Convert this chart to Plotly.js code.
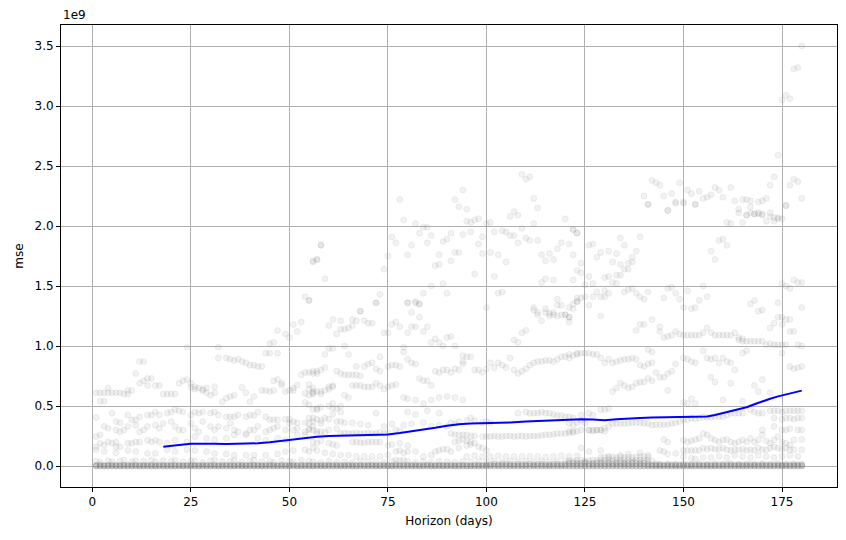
<!DOCTYPE html>
<html><head><meta charset="utf-8">
<script src="https://cdn.plot.ly/plotly-3.0.1.min.js"></script>
<style>html,body{margin:0;padding:0;background:#fff}#chart{width:846px;height:540px}</style>
</head><body><div id="chart"></div>
<script>
// Horizon (days) for the dense near-zero rows
const horizonDays = [1,2,3,4,5,6,7,8,9,10,11,12,13,14,15,16,17,18,19,20,
21,22,23,24,25,26,27,28,29,30,31,32,33,34,35,36,37,38,39,40,
41,42,43,44,45,46,47,48,49,50,51,52,53,54,55,56,57,58,59,60,
61,62,63,64,65,66,67,68,69,70,71,72,73,74,75,76,77,78,79,80,
81,82,83,84,85,86,87,88,89,90,91,92,93,94,95,96,97,98,99,100,
101,102,103,104,105,106,107,108,109,110,111,112,113,114,115,116,117,118,119,120,
121,122,123,124,125,126,127,128,129,130,131,132,133,134,135,136,137,138,139,140,
141,142,143,144,145,146,147,148,149,150,151,152,153,154,155,156,157,158,159,160,
161,162,163,164,165,166,167,168,169,170,171,172,173,174,175,176,177,178,179,180];

// mse values in units of 1e9
const baseRowA = [0,0,0,0,0,0,0,0,0,0,0,0,0,0,0,0,0,0,0,0,
0,0,0,0,0,0,0,0,0,0,0,0,0,0,0,0,0,0,0,0,
0,0,0,0,0,0,0,0,0,0,0,0,0,0,0,0,0,0,0,0,
0,0,0,0,0,0,0,0,0,0,0,0,0,0,0,0,0,0,0,0,
0,0,0,0,0,0,0,0,0,0,0,0,0,0,0,0,0,0,0,0,
0,0,0,0,0,0,0,0,0,0,0,0,0,0,0,0,0,0,0,0,
0,0,0,0,0,0,0,0,0,0,0,0,0,0,0,0,0,0,0,0,
0,0,0,0,0,0,0,0,0,0,0,0,0,0,0,0,0,0,0,0,
0,0,0,0,0,0,0,0,0,0,0,0,0,0,0,0,0,0,0,0];

const baseRowB = [0.006,0.008,0.005,0.007,0.009,0.006,0.005,0.008,0.007,0.006,0.009,0.005,0.007,0.008,0.006,0.005,0.009,0.007,0.006,0.008,
0.006,0.008,0.005,0.007,0.009,0.006,0.005,0.008,0.007,0.006,0.009,0.005,0.007,0.008,0.006,0.005,0.009,0.007,0.006,0.008,
0.006,0.008,0.005,0.007,0.009,0.006,0.005,0.008,0.007,0.006,0.009,0.005,0.007,0.008,0.006,0.005,0.009,0.007,0.006,0.008,
0.006,0.008,0.005,0.007,0.009,0.006,0.005,0.008,0.007,0.006,0.009,0.005,0.007,0.008,0.006,0.005,0.009,0.007,0.006,0.008,
0.006,0.008,0.005,0.007,0.009,0.006,0.005,0.008,0.007,0.006,0.009,0.005,0.007,0.008,0.006,0.005,0.009,0.007,0.006,0.008,
0.012,0.015,0.010,0.014,0.016,0.012,0.011,0.015,0.013,0.012,0.016,0.010,0.014,0.015,0.012,0.011,0.016,0.014,0.012,0.015,
0.020,0.025,0.018,0.022,0.026,0.020,0.019,0.024,0.022,0.020,0.026,0.018,0.023,0.025,0.021,0.020,0.026,0.022,0.020,0.024,
0.012,0.010,0.008,0.010,0.009,0.008,0.010,0.009,0.008,0.010,0.009,0.008,0.010,0.009,0.008,0.010,0.009,0.008,0.010,0.009,
0.012,0.010,0.008,0.010,0.009,0.008,0.010,0.009,0.008,0.010,0.009,0.008,0.010,0.009,0.008,0.010,0.009,0.008,0.010,0.009];

const lowBand = [[1,0.04],[2,0.03],[4,0.045],[5,0.035],[7,0.04],[8,0.05],[10,0.035],[11,0.045],[13,0.04],[15,0.05],[16,0.035],[18,0.045],[20,0.04],[21,0.05],[23,0.035],[25,0.045],[26,0.04],[28,0.03],[30,0.045],[31,0.05],[33,0.035],[35,0.04],[36,0.045],[38,0.03],[40,0.04],[41,0.05],[43,0.035],[45,0.04],[46,0.03],[48,0.045],[50,0.04],[51,0.035],[53,0.05],[55,0.04],[56,0.035],[58,0.03],[60,0.04],[62,0.03],[64,0.035],[66,0.03],[68,0.04],[70,0.035],[72,0.03],[74,0.03],[76,0.04],[77,0.05],[78,0.045],[79,0.05],[80,0.04],[82,0.03],[84,0.035],[86,0.03],[88,0.04],[90,0.035],[92,0.03],[94,0.04],[96,0.035],[98,0.04],[100,0.035],[102,0.04],[104,0.035],[106,0.04],[108,0.035],[110,0.04],[112,0.035],[114,0.04],[116,0.035],[118,0.04],[120,0.04],[121,0.045],[122,0.04],[123,0.045],[124,0.05],[125,0.04],[126,0.045],[127,0.05],[128,0.045],[129,0.05],[130,0.045],[131,0.05],[132,0.045],[133,0.05],[134,0.045],[135,0.05],[136,0.045],[137,0.05],[138,0.045],[139,0.05],[140,0.045],[141,0.05],[142,0.04],
[129,0.07],[130,0.075],[131,0.07],[132,0.075],[133,0.07],[134,0.075],[135,0.07],[136,0.075],[137,0.07],[138,0.075],[139,0.08],[140,0.08],[141,0.075],
[121,0.03],[123,0.025],[125,0.03],[127,0.025],[129,0.03],[131,0.025],[133,0.03],[135,0.025],[137,0.03],[139,0.03],[141,0.03],[143,0.02],[144,0.015],[146,0.02],[148,0.015],[150,0.02],[152,0.015],[154,0.02],[156,0.015],[158,0.02],[160,0.015],[162,0.02],[164,0.015],[166,0.02],[168,0.015],[170,0.02],[172,0.015],[174,0.02],[176,0.015],[178,0.02],[180,0.015]];

// Early horizons (days 1-58): [day, mse]
const earlyPts = [[1,0.61],[2,0.61],[3,0.61],[4,0.61],[5,0.61],[6,0.61],[7,0.61],[8,0.60],[9,0.60],
[2,0.54],[3,0.54],[4,0.65],[9,0.63],[10,0.63],[11,0.77],[12,0.87],[13,0.87],[12,0.69],[13,0.71],[14,0.73],[15,0.73],[14,0.67],[16,0.67],[17,0.67],[18,0.60],[19,0.60],[20,0.60],[21,0.60],[22,0.69],[23,0.71],[24,0.72],[24,0.99],[25,0.69],[26,0.66],[27,0.65],[28,0.64],[29,0.65],[31,0.66],
[25,0.655],[26,0.64],[28,0.63],[29,0.61],[30,0.59],[31,0.61],[33,0.535],[34,0.565],[35,0.58],[36,0.59],[38,0.655],[39,0.61],[40,0.535],[41,0.58],[43,0.63],[44,0.63],[45,0.62],[46,0.63],[48,0.675],[49,0.62],[51,0.63],[52,0.675],[54,0.605],[55,0.59],[56,0.62],
[32,0.99],[32,0.90],[34,0.90],[35,0.89],[36,0.88],[37,0.89],[38,0.87],[39,0.86],[40,0.84],[41,0.84],[42,0.83],[43,0.83],[44,0.94],[45,0.94],[45,1.02],[46,1.03],[47,0.94],[47,1.13],[49,1.10],[50,1.07],[51,1.18],[52,1.12],[53,1.20],[54,1.41],[55,1.38],[56,1.70],[57,1.72],[58,1.84],
[46,0.71],[47,0.72],[48,0.69],[50,0.63],[51,0.65],[53,0.76],[54,0.78],[55,0.78],[56,0.79],[57,0.77],[55,0.68],[56,0.61],[57,0.47],[54,0.53],[55,0.51],[58,0.60],
[1,0.405],[5,0.44],[6,0.37],[7,0.36],[9,0.425],[10,0.385],[11,0.385],[12,0.41],[14,0.425],[15,0.425],[16,0.45],[17,0.425],[19,0.44],[20,0.45],[21,0.47],[22,0.46],[23,0.45],[25,0.425],[26,0.45],[27,0.44],[28,0.45],[30,0.44],[31,0.45],[32,0.425],[34,0.41],[35,0.41],[36,0.41],[37,0.425],[39,0.41],[40,0.425],[41,0.42],[42,0.45],[44,0.41],[45,0.385],[46,0.385],[47,0.385],[49,0.39],[50,0.39],[51,0.37],[52,0.36],[54,0.36],[55,0.355],[56,0.37],[58,0.355],
[2,0.26],[3,0.33],[4,0.315],[6,0.30],[7,0.285],[8,0.30],[9,0.33],[11,0.34],[12,0.285],[13,0.30],[14,0.33],[16,0.34],[17,0.315],[18,0.355],[20,0.37],[21,0.33],[22,0.30],[23,0.30],[25,0.355],[26,0.315],[27,0.285],[28,0.37],[30,0.33],[31,0.30],[32,0.33],[34,0.315],[35,0.355],[36,0.30],[37,0.285],[39,0.27],[40,0.30],[41,0.30],[42,0.33],[44,0.285],[45,0.30],[46,0.315],[47,0.33],[49,0.30],[50,0.355],[51,0.30],[52,0.315],[54,0.285],[55,0.30],[56,0.33],[58,0.285],
[1,0.245],[1,0.16],[2,0.19],[3,0.175],[4,0.20],[5,0.19],[6,0.20],[6,0.16],[7,0.16],[9,0.19],[10,0.19],[11,0.20],[12,0.20],[14,0.215],[15,0.20],[16,0.215],[17,0.20],[19,0.19],[21,0.215],[24,0.20],[26,0.245],[29,0.23],[31,0.22],[34,0.23],[36,0.26],[39,0.26],[42,0.23],[44,0.215],[47,0.23],[49,0.215],[52,0.26],[54,0.26],[57,0.27],
[1,0.135],[3,0.12],[6,0.11],[9,0.13],[11,0.12],[14,0.105],[16,0.105],[19,0.135],[21,0.12],[24,0.135],[26,0.13],[29,0.12],[31,0.105],[34,0.10],[36,0.09],[39,0.09],[41,0.09],[44,0.09],[47,0.10],[49,0.12],[51,0.13],[54,0.135],[56,0.15]];

// Middle horizons (days 55-123): [day, mse]
const middlePts = [[58,1.84],[56,1.71],[57,1.72],[59,1.56],[55,1.38],[73,1.43],[72,1.36],[68,1.29],[74,1.64],[75,1.75],[78,2.22],[79,2.05],[82,2.02],[83,1.94],[84,1.99],[85,1.99],[86,1.92],[85,1.86],[76,1.91],[77,1.86],[81,1.84],[80,1.76],[87,1.67],[88,1.68],[88,1.76],[89,1.87],[90,1.89],[91,1.94],[92,1.78],[93,1.78],[92,2.22],[93,2.16],[94,2.30],[95,2.14],[95,2.04],[96,2.03],[97,2.05],[98,2.06],[94,1.93],[96,1.95],[98,1.85],[99,1.91],[99,1.77],[91,1.71],[89,1.52],[90,1.44],[86,1.50],[84,1.44],[83,1.35],[82,1.37],[80,1.36],[81,1.28],[83,1.24],[97,1.60],
[100,2.02],[101,2.03],[102,1.95],[104,1.96],[105,1.95],[106,1.92],[107,1.92],[108,1.86],[109,1.98],[110,1.90],[111,1.88],[113,1.88],[112,2.02],[106,2.08],[107,2.12],[108,2.09],[112,2.23],[113,2.15],[109,2.43],[110,2.39],[111,2.41],[120,2.06],[122,1.97],[123,1.94],[101,1.78],[103,1.76],[105,1.70],[102,1.58],[103,1.44],[104,1.45],[100,1.32],[114,1.76],[115,1.71],[116,1.77],[117,1.72],[118,1.81],[119,1.86],[121,1.85],[122,1.76],[114,1.53],[115,1.56],[117,1.55],[118,1.39],[119,1.34],[120,1.26],[121,1.24],[122,1.31],[123,1.37],[112,1.30],[113,1.26],[115,1.28],[116,1.25],[117,1.26],[118,1.25],
[72,1.36],[80,1.36],[82,1.36],[83,1.35],[61,1.22],[63,1.21],[64,1.14],[65,1.15],[66,1.17],[67,1.21],[66,1.22],[68,1.29],[69,1.21],[70,1.19],[71,1.19],[60,1.17],
[74,1.11],[75,1.11],[76,1.18],[77,1.20],[78,1.16],[80,1.11],[81,1.16],[82,1.16],[84,1.12],[85,1.16],
[62,1.10],[63,1.14],[64,1.00],[65,0.93],[59,0.93],[60,0.98],[61,0.98],[67,0.83],[69,0.83],[70,0.85],[71,0.86],[73,0.91],[72,0.81],[73,0.79],
[79,0.99],[79,0.95],[80,0.89],[81,0.86],[82,0.85],[76,0.84],[77,0.84],[78,0.83],[75,0.83],[83,0.73],[84,0.71],[85,0.71],[86,0.67],
[86,1.03],[87,1.06],[88,1.03],[89,1.00],[90,1.07],[91,1.08],[92,1.00],[94,0.92],[95,0.91],[96,0.91],[94,0.87],[93,0.80],[92,0.81],[91,0.78],[90,0.80],[89,0.80],[88,0.78],[87,0.79],[94,0.85],
[97,0.80],[98,0.80],[99,0.78],[100,0.81],[101,0.86],[102,0.82],[103,0.86],[104,0.84],[105,0.82],[106,0.90],[107,0.80],[108,0.77],[109,0.79],[110,0.81],[111,0.84],[112,0.86],[113,0.87],[114,0.87],[115,0.88],[116,0.88],[117,0.87],[118,0.89],[119,0.91],[120,0.91],[121,0.90],[122,0.92],[123,0.94],
[107,1.05],[108,1.03],[109,1.11],[110,1.13],[112,1.32],[113,1.28],[114,1.21],[115,1.31],[116,1.27],[117,1.28],[118,1.34],[119,1.26],[120,1.26],[121,1.20],[121,1.24],
[56,0.77],[57,0.79],[58,0.80],[59,0.82],[60,0.66],[61,0.67],[56,0.65],[57,0.62],[58,0.62],[59,0.63],[60,0.64],[61,0.66],[62,0.48],[63,0.50],[58,0.49],[61,0.48],[64,0.59],[65,0.57],[55,0.64],[56,0.60],
[62,0.79],[63,0.77],[64,0.76],[65,0.76],[66,0.76],[67,0.76],[68,0.75],
[66,0.67],[67,0.67],[68,0.67],[69,0.66],[70,0.66],[71,0.66],[72,0.69],[73,0.67],[74,0.64],[75,0.66],[76,0.67],[77,0.68],
[79,0.57],[80,0.56],[82,0.55],[84,0.52],[86,0.55],[88,0.57],[90,0.58],[92,0.57],[94,0.55],
[55,0.40],[56,0.40],[57,0.39],[58,0.38],[59,0.40],[60,0.39],[61,0.43],[62,0.37],[63,0.37],[64,0.36],
[66,0.36],[68,0.35],[70,0.34],[74,0.33],[76,0.35],[79,0.34],[81,0.35],[84,0.36],[86,0.33],[88,0.34],[90,0.33],
[56,0.47],[57,0.48],[60,0.50],[61,0.52],[63,0.45],[72,0.44],[80,0.45],[82,0.43],[85,0.46],[88,0.44],
[108,0.44],[110,0.45],[111,0.44],[112,0.44],[113,0.44],[114,0.45],[115,0.44],[116,0.44],[117,0.43],[118,0.42],[119,0.42],[120,0.41],[121,0.41],[122,0.40],
[91,0.36],[92,0.35],[93,0.37],[95,0.38],[96,0.40],[97,0.38],[99,0.36],[100,0.37],[101,0.36],
[91,0.27],[92,0.26],[93,0.26],[94,0.26],[95,0.26],[96,0.25],[97,0.25],[99,0.245],[100,0.245],[101,0.245],[102,0.25],[103,0.245],[104,0.245],[105,0.25],[106,0.25],[107,0.245],[108,0.25],[109,0.25],[110,0.245],[111,0.25],[112,0.25],[113,0.25],[114,0.255],[115,0.26],[116,0.26],[117,0.265],[118,0.27],[119,0.27],[120,0.27],[121,0.275],[122,0.28],
[92,0.20],[93,0.21],[94,0.22],[95,0.21],[96,0.20],[97,0.19],
[87,0.12],[88,0.13],[89,0.14],[90,0.14],[91,0.12],[93,0.15],[95,0.17],[96,0.18],[98,0.16],[99,0.15],[100,0.13],
[95,0.08],[97,0.085],[99,0.08],[101,0.08],[103,0.085],[105,0.08],[107,0.08],[109,0.08],[111,0.08],[113,0.08],[115,0.075],[117,0.08],[119,0.085],[121,0.08],[123,0.085],
[55,0.31],[56,0.30],[57,0.29],[59,0.28],[60,0.30],[62,0.31],[63,0.27],[64,0.275],[65,0.27],[66,0.27],[67,0.275],[68,0.27],[69,0.27],[70,0.275],[71,0.27],[72,0.27],[73,0.28],[74,0.27],[75,0.28],[77,0.30],[78,0.29],
[66,0.20],[67,0.20],[68,0.195],[69,0.195],[70,0.20],[71,0.20],[72,0.20],[73,0.20],[56,0.20],[57,0.19],[58,0.21],[60,0.19],[61,0.18],[62,0.17],[75,0.17],[76,0.18],[78,0.19],[80,0.17],
[55,0.12],[57,0.13],[59,0.11],[61,0.10],[63,0.09],[65,0.09],[67,0.08],[69,0.08],[71,0.08],[73,0.08],[75,0.09],[77,0.12],[78,0.13],[79,0.11],[80,0.12],[82,0.12],[84,0.08],[86,0.09]];

// Late horizons (days 121-180): [day, mse]
const latePts = [[180,3.50],[178,3.31],[179,3.32],[175,3.05],[176,3.09],[177,3.06],[174,2.59],[173,2.41],[172,2.34],[177,2.34],[178,2.39],[179,2.37],[180,2.23],[176,2.17],
[142,2.38],[143,2.36],[144,2.34],[140,2.25],[141,2.18],[145,2.25],[147,2.27],[146,2.13],[148,2.19],[149,2.36],[150,2.19],[151,2.30],[152,2.27],[153,2.18],[154,2.29],[155,2.23],[156,2.24],[157,2.26],[158,2.32],[159,2.30],[160,2.24],[162,2.32],[163,2.21],[164,2.14],[164,2.11],[165,2.22],[166,2.22],[167,2.21],[167,2.16],[168,2.10],[169,2.20],[170,2.21],[171,2.23],[169,2.10],[170,2.09],[166,2.09],[172,2.08],[173,2.07],[174,2.07],
[141,2.18],[146,2.13],[148,2.20],[150,2.20],[153,2.18],
[161,2.03],[162,2.02],[165,2.03],[166,2.09],[167,2.11],[168,2.10],[169,2.11],[170,2.10],[171,2.04],[172,2.11],[173,2.04],[174,2.06],[175,2.06],[176,2.17],
[122,1.97],[123,1.94],[126,1.84],[127,1.85],[134,1.90],[135,1.84],[139,1.91],[128,1.74],[129,1.78],[131,1.79],[133,1.77],[138,1.79],
[132,1.70],[134,1.68],[136,1.69],[137,1.70],[137,1.74],[135,1.64],[136,1.64],[134,1.59],[133,1.59],[131,1.58],[130,1.57],[132,1.53],[133,1.52],
[124,1.69],[123,1.63],[124,1.61],[122,1.55],[126,1.58],[127,1.52],[125,1.51],
[159,1.88],[160,1.89],[161,1.84],[157,1.79],[158,1.72],
[175,1.52],[176,1.50],[177,1.48],[178,1.55],[179,1.53],[180,1.53],
[128,1.45],[129,1.41],[130,1.46],[130,1.41],[131,1.44],[135,1.45],[136,1.47],[137,1.48],[138,1.44],[139,1.41],[140,1.39],[141,1.45],
[123,1.37],[124,1.40],[125,1.41],[126,1.34],[127,1.41],
[145,1.40],[146,1.48],[147,1.49],[148,1.44],[149,1.39],[151,1.46],
[150,1.32],[152,1.31],[153,1.32],[154,1.38],[155,1.50],[156,1.41],
[167,1.35],[168,1.38],[169,1.29],[170,1.30],[174,1.36],[175,1.24],[177,1.22],[180,1.32],[129,1.25],
[172,1.15],[173,1.19],[174,1.24],[175,1.18],[176,1.22],[177,1.12],[178,1.12],
[138,1.13],[139,1.18],[140,1.18],[142,1.22],[144,1.16],[144,1.12],[145,1.07],[146,1.08],[147,1.09],[148,1.12],[149,1.10],[150,1.09],[151,1.09],[152,1.09],[153,1.09],[154,1.09],[155,1.11],[156,1.15],[157,1.11],[158,1.09],[159,1.09],[160,1.09],[161,1.09],[162,1.09],[163,1.11],[164,1.07],[165,1.06],
[121,1.32],[122,1.35],[123,1.40],
[164,1.05],[165,1.04],[166,1.04],[167,1.04],[168,1.04],[169,1.04],[170,1.04],[171,1.01],[172,1.02],[173,1.01],[174,1.01],[175,1.01],[176,1.01],[179,1.01],[180,1.00],
[121,0.93],[123,0.93],[124,0.94],[125,0.94],[126,0.94],[127,0.93],[128,0.93],
[129,0.90],[130,0.86],[131,0.89],[132,0.86],[133,0.87],[134,0.88],[135,0.89],[136,0.89],[137,0.90],[138,0.89],
[139,0.84],[140,0.83],[141,0.85],[142,0.86],[141,0.97],[142,0.95],
[132,0.62],[133,0.65],[134,0.69],[135,0.67],[136,0.65],[137,0.66],[138,0.69],[139,0.70],[140,0.70],
[141,0.73],[142,0.71],[143,0.78],[144,0.74],[145,0.74],[146,0.77],[147,0.79],[148,0.85],[146,0.63],
[150,0.90],[151,0.89],[152,0.87],[153,0.86],[155,0.96],[156,0.90],[157,0.89],[158,0.90],[159,0.86],[160,0.90],[161,0.87],[162,0.86],[163,0.80],[165,0.94],[166,0.96],
[150,0.53],[151,0.52],[152,0.56],[153,0.52],
[157,0.74],[158,0.70],[160,0.55],[162,0.69],[165,0.54],[168,0.67],[169,0.62],[170,0.72],[172,0.61],[175,0.94],[177,0.83],[178,0.81],[179,0.82],[180,0.83],
[124,0.425],[126,0.44],[127,0.425],[129,0.47],[130,0.47],[131,0.48],
[121,0.355],[122,0.34],[123,0.36],[124,0.38],[125,0.36],[126,0.30],[127,0.30],[128,0.30],[129,0.30],[130,0.315],[131,0.33],[132,0.355],[133,0.355],[134,0.355],[135,0.355],[136,0.355],[137,0.36],[138,0.36],[139,0.36],[140,0.355],[141,0.355],[142,0.34],[143,0.345],[144,0.345],[145,0.345],[146,0.345],[147,0.355],[148,0.36],[149,0.37],[150,0.385],[151,0.385],[152,0.40],[153,0.39],[154,0.40],[155,0.41],[156,0.405],[157,0.405],[158,0.41],[159,0.41],[160,0.41],[161,0.425],[162,0.44],[163,0.44],[164,0.44],[165,0.44],
[167,0.47],[168,0.45],[169,0.44],[170,0.44],[172,0.46],[173,0.46],[174,0.46],[175,0.45],[176,0.46],[177,0.46],[178,0.46],[179,0.46],[180,0.46],
[173,0.40],[175,0.39],[176,0.40],[177,0.40],[178,0.39],[179,0.40],[180,0.40],
[170,0.30],[173,0.33],[175,0.30],[176,0.30],[177,0.31],[179,0.30],[180,0.30],
[121,0.29],[122,0.29],[123,0.29],[124,0.30],[126,0.30],[127,0.29],[128,0.30],[129,0.30],[130,0.29],
[145,0.22],[146,0.20],[150,0.217],[151,0.20],[152,0.21],[153,0.22],[154,0.23],[155,0.27],[156,0.26],[157,0.23],[158,0.217],[159,0.20],[160,0.217],[161,0.22],[162,0.20],[163,0.19],[164,0.20],[165,0.217],[166,0.20],[167,0.23],[168,0.20],[169,0.217],[170,0.26],[171,0.21],[172,0.19],[173,0.217],[174,0.245],[175,0.20],[176,0.19],[177,0.175],[178,0.217],[180,0.22],
[150,0.13],[151,0.13],[152,0.13],[153,0.13],[154,0.13],[155,0.15],[156,0.14],[157,0.15],[158,0.14],[159,0.14],[160,0.15],[161,0.135],[162,0.13],[163,0.135],[164,0.135],[165,0.14],[166,0.13],[167,0.135],[168,0.13],[169,0.15],[170,0.135],[171,0.135],[172,0.15],[173,0.16],[174,0.15],[175,0.14],[176,0.15],[177,0.135],[178,0.135],[180,0.135],
[124,0.15],[126,0.12],[129,0.13],[131,0.08],[134,0.09],[136,0.10],[139,0.11],[141,0.09],[144,0.13],[145,0.12],[146,0.10],[148,0.105],[150,0.08],[152,0.065],[153,0.06],[155,0.07],[157,0.07],[159,0.08],[161,0.07],[163,0.09],[165,0.08],[167,0.07],[169,0.09],[171,0.08],[173,0.07],[175,0.08],[177,0.09],[179,0.08]];

// Rolling mean of mse (blue line)
const rollingDays = [18,20,22,25,28,31,34,37,40,42,45,48,51,54,57,60,63,66,69,72,75,78,81,84,87,90,93,96,100,103,106,110,114,118,121,124,127,130,133,136,139,142,145,148,151,154,156,158,160,162,164,166,168,170,172,174,176,178,180];
const rollingMse = [0.161,0.170,0.175,0.185,0.187,0.185,0.183,0.183,0.185,0.189,0.197,0.210,0.220,0.232,0.243,0.250,0.252,0.254,0.256,0.258,0.263,0.275,0.288,0.302,0.318,0.335,0.348,0.354,0.356,0.356,0.362,0.370,0.375,0.378,0.383,0.390,0.387,0.382,0.390,0.397,0.401,0.404,0.406,0.409,0.410,0.410,0.413,0.425,0.440,0.455,0.470,0.490,0.515,0.540,0.560,0.580,0.597,0.612,0.628];

const ptStyle = {size: 6, color: 'rgba(128,128,128,0.1)', line: {color: 'rgba(128,128,128,0.1)', width: 1}};
function pts(list) {
  return {x: list.map(p => p[0]), y: list.map(p => p[1]), type: 'scatter', mode: 'markers', marker: ptStyle, showlegend: false};
}
function row(vals) {
  return {x: horizonDays, y: vals, type: 'scatter', mode: 'markers', marker: ptStyle, showlegend: false};
}
const traces = [
  row(baseRowA), row(baseRowA), row(baseRowA), row(baseRowB), row(baseRowB),
  pts(lowBand), pts(earlyPts), pts(middlePts), pts(latePts),
  {x: rollingDays, y: rollingMse, type: 'scatter', mode: 'lines', line: {color: '#0000ff', width: 2}, showlegend: false}
];

const axisCommon = {
  showgrid: true, gridcolor: '#b0b0b0', gridwidth: 1, zeroline: false,
  showline: true, linecolor: '#000', linewidth: 1, mirror: true,
  ticks: 'outside', ticklen: 4, tickwidth: 1, tickcolor: '#000',
  tickfont: {family: 'DejaVu Sans', size: 12, color: '#000'}
};
const layout = {
  width: 846, height: 540,
  margin: {l: 61, r: 9, t: 25, b: 53},
  paper_bgcolor: '#fff', plot_bgcolor: '#fff',
  font: {family: 'DejaVu Sans', size: 12, color: '#000'},
  showlegend: false,
  xaxis: Object.assign({}, axisCommon, {
    range: [-7.95, 188.95], tickvals: [0,25,50,75,100,125,150,175],
    title: {text: 'Horizon (days)', font: {family: 'DejaVu Sans', size: 12, color: '#000'}, standoff: 8}
  }),
  yaxis: Object.assign({}, axisCommon, {
    range: [-0.175, 3.675], tickvals: [0,0.5,1,1.5,2,2.5,3,3.5], tickformat: '.1f',
    title: {text: 'mse', font: {family: 'DejaVu Sans', size: 12, color: '#000'}, standoff: 8}
  }),
  annotations: [{text: '1e9', xref: 'paper', yref: 'paper', x: 0, y: 1, xanchor: 'left', yanchor: 'bottom', showarrow: false, yshift: 1, font: {family: 'DejaVu Sans', size: 12, color: '#000'}}]
};
Plotly.newPlot('chart', traces, layout, {staticPlot: true, displayModeBar: false});
</script></body></html>
